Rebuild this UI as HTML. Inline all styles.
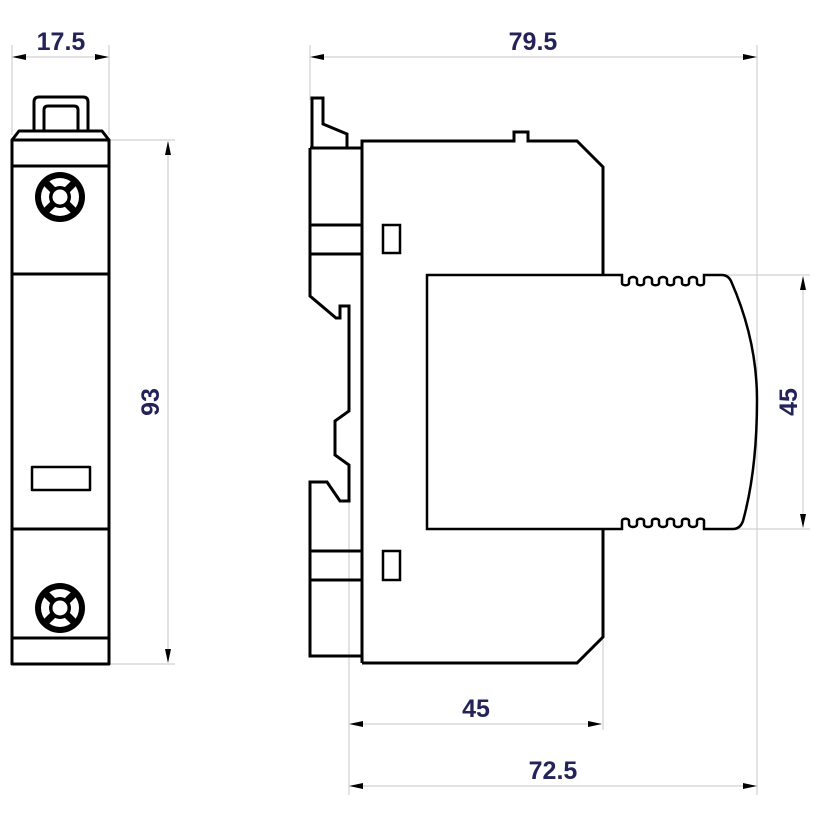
<!DOCTYPE html>
<html><head><meta charset="utf-8"><style>html,body{margin:0;padding:0;background:#fff}svg{display:block}</style></head>
<body>
<svg width="820" height="820" viewBox="0 0 820 820" xmlns="http://www.w3.org/2000/svg">
<defs>
<g id="screw">
<circle r="25" fill="#000"/><circle r="19" fill="#fff"/>
<line x1="-17" y1="-17" x2="17" y2="17" stroke="#000" stroke-width="7"/>
<line x1="17" y1="-17" x2="-17" y2="17" stroke="#000" stroke-width="7"/>
<circle r="11" fill="#000"/><circle r="7.5" fill="#fff"/>
</g>
</defs>
<g stroke="#d0d0d0" stroke-width="1.2" fill="none">
<line x1="12" y1="45" x2="12" y2="135"/><line x1="109" y1="45" x2="109" y2="135"/>
<line x1="109" y1="140" x2="175" y2="140"/><line x1="109" y1="664" x2="175" y2="664"/>
<line x1="310" y1="45" x2="310" y2="100"/><line x1="757" y1="45" x2="757" y2="400"/>
<line x1="725" y1="275" x2="810" y2="275"/><line x1="737" y1="529" x2="810" y2="529"/>
<line x1="349" y1="480" x2="349" y2="795"/><line x1="603" y1="640" x2="603" y2="730"/>
<line x1="757" y1="400" x2="757" y2="795"/>
</g>
<g stroke="#d0d0d0" stroke-width="1.2">
<line x1="14" y1="57" x2="107" y2="57"/>
<line x1="168" y1="142" x2="168" y2="662"/>
<line x1="312" y1="57" x2="755" y2="57"/>
<line x1="803" y1="277" x2="803" y2="527"/>
<line x1="351" y1="724" x2="601" y2="724"/>
<line x1="351" y1="786" x2="755" y2="786"/>
</g>
<g fill="#000">
<polygon points="12,57 26,54 26,60"/><polygon points="109,57 95,54 95,60"/>
<polygon points="168,141 165,155 171,155"/><polygon points="168,663 165,649 171,649"/>
<polygon points="310,57 324,54 324,60"/><polygon points="757,57 743,54 743,60"/>
<polygon points="803,276 800,290 806,290"/><polygon points="803,528 800,514 806,514"/>
<polygon points="349,724 363,721 363,727"/><polygon points="602,724 588,721 588,727"/>
<polygon points="349,786 363,783 363,789"/><polygon points="757,786 743,783 743,789"/>
</g>
<g stroke="#000" stroke-width="3" fill="none" stroke-linejoin="round">
<path d="M34,131 V102 Q34,97 39,97 H83 Q88,97 88,102 V131"/>
<path d="M44,131 V110 Q44,106 48,106 H74 Q78,106 78,110 V131"/>
<path d="M12,140 L19,131 H102 L109,140"/>
<rect x="12" y="140" width="97" height="524"/>
<line x1="12" y1="166" x2="109" y2="166"/>
<line x1="12" y1="274" x2="109" y2="274"/>
<line x1="12" y1="529" x2="109" y2="529"/>
<line x1="12" y1="638" x2="109" y2="638"/>
<rect x="32" y="467" width="58" height="23" stroke-width="2.5"/>
</g>
<use href="#screw" x="60" y="197"/>
<use href="#screw" x="60" y="608"/>
<g stroke="#000" stroke-width="3" fill="none" stroke-linejoin="miter">
<path d="M312,148 V98 H323 V124 L347,134 V148"/>
<path d="M310,148 H362 V296"/>
<path d="M310,148 V296 L336,318 H340 V306 H349 V411 L335,421 V455 L349,465 V501 H340 L327,482 H310 V656 H362"/>
<line x1="310" y1="225" x2="362" y2="225"/>
<line x1="310" y1="254" x2="362" y2="254"/>
<line x1="310" y1="551" x2="362" y2="551"/>
<line x1="310" y1="580" x2="362" y2="580"/>
<path d="M362,663 V141 H514 V132 H528 V141 H577 L603,167 V274"/>
<path d="M603,529 V637 L577,663 H362"/>
<rect x="383" y="225" width="17" height="28" stroke-width="2.5"/>
<rect x="383" y="551" width="17" height="29" stroke-width="2.5"/>
<path d="M427,529 V275 H622 V283 c0,3 7,3 7,0 v-3 c0,-4 8,-4 8,0 v3 c0,3 7,3 7,0 v-3 c0,-4 8,-4 8,0 v3 c0,3 7,3 7,0 v-3 c0,-4 8,-4 8,0 v3 c0,3 7,3 7,0 v-3 c0,-4 8,-4 8,0 v3 c0,3 7,3 7,0 v-3 c0,-4 8,-4 8,0 v3 c0,3 7,3 7,0 V275 H722 Q728,275 731,281 Q757,340 757,400 Q757,470 743,521 Q740,529 733,529 H704 V521 c0,-3 -7,-3 -7,0 v3 c0,4 -8,4 -8,0 v-3 c0,-3 -7,-3 -7,0 v3 c0,4 -8,4 -8,0 v-3 c0,-3 -7,-3 -7,0 v3 c0,4 -8,4 -8,0 v-3 c0,-3 -7,-3 -7,0 v3 c0,4 -8,4 -8,0 v-3 c0,-3 -7,-3 -7,0 v3 c0,4 -8,4 -8,0 v-3 c0,-3 -7,-3 -7,0 V529 Z" stroke-width="2.5"/>
</g>
<g fill="#23235a" font-family="Liberation Sans, sans-serif" font-weight="bold" font-size="25" text-anchor="middle">
<text x="61" y="50">17.5</text>
<text x="533" y="50">79.5</text>
<text x="476" y="717">45</text>
<text x="553" y="779">72.5</text>
<text transform="translate(159,402) rotate(-90)">93</text>
<text transform="translate(797,402) rotate(-90)">45</text>
</g>
</svg>
</body></html>
